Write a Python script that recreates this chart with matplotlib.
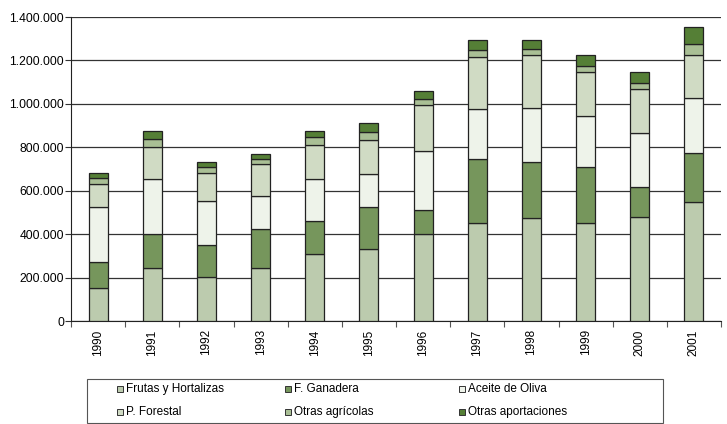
import numpy as np
import matplotlib.pyplot as plt
from matplotlib.patches import Rectangle
from matplotlib.ticker import FuncFormatter

# Datos (tramos de cada serie)
anios = ["1990", "1991", "1992", "1993", "1994", "1995",
         "1996", "1997", "1998", "1999", "2000", "2001"]
frutas = [153000, 245000, 201000, 245000, 309000, 332000,
          402000, 453000, 474000, 453000, 480000, 547000]
ganadera = [120000, 157000, 151000, 177000, 151000, 191000,
            108000, 292000, 257000, 256000, 137000, 227000]
aceite = [250000, 250000, 199000, 152000, 192000, 154000,
          271000, 230000, 251000, 236000, 250000, 252000]
forestal = [108000, 151000, 130000, 150000, 157000, 155000,
            214000, 242000, 241000, 202000, 201000, 199000]
otras_agricolas = [26000, 35000, 28000, 21000, 38000, 37000,
                   29000, 30000, 30000, 26000, 28000, 51000]
otras_aportaciones = [24000, 35000, 22000, 23000, 26000, 41000,
                      37000, 49000, 43000, 50000, 51000, 78000]

series = [frutas, ganadera, aceite, forestal, otras_agricolas, otras_aportaciones]
nombres = ["Frutas y Hortalizas", "F. Ganadera", "Aceite de Oliva",
           "P. Forestal", "Otras agrícolas", "Otras aportaciones"]
colores = ["#bccbae", "#76965c", "#eef3ea", "#d0dbc4", "#a9bf95", "#557f36"]

plt.rcParams['font.family'] = ['Liberation Sans', 'DejaVu Sans']

W, H = 727, 424
fig = plt.figure(figsize=(W / 100, H / 100), dpi=100)
ax = fig.add_axes([71 / W, 1 - 321 / H, 650 / W, 304 / H])

x = np.arange(len(anios))
base = np.zeros(len(anios))
for vals, nom, col in zip(series, nombres, colores):
    ax.bar(x, vals, width=0.35, bottom=base, color=col, edgecolor="#222222",
           linewidth=0.9, label=nom, zorder=3)
    base += np.array(vals)

ax.set_ylim(0, 1400000)
ax.set_xlim(-0.5, len(anios) - 0.5)
ax.set_yticks(np.arange(0, 1400001, 200000))
ax.yaxis.set_major_formatter(FuncFormatter(lambda v, p: f"{int(v):,}".replace(",", ".")))
ax.grid(axis="y", color="#333333", linewidth=0.9, zorder=0)

# ticks del eje x entre categorías, etiquetas centradas
ax.set_xticks(np.arange(-0.5, len(anios), 1))
ax.set_xticklabels([])
ax.set_xticks(x, minor=True)
ax.set_xticklabels(anios, minor=True, rotation=90, fontsize=8.5)
ax.tick_params(axis="x", which="minor", length=0, pad=6)
ax.tick_params(axis="x", which="major", length=4, color="#555555")
ax.tick_params(axis="y", labelsize=8.7, length=4, color="#333333", pad=1)

for s in ["top", "right"]:
    ax.spines[s].set_visible(False)
ax.spines["left"].set_color("#222222")
ax.spines["bottom"].set_color("#222222")

# leyenda dibujada a mano (columnas con posiciones fijas)
fig.patches.append(Rectangle((87 / W, 1 - 423 / H), 576 / W, 44 / H,
                             transform=fig.transFigure, facecolor="white",
                             edgecolor="#555555", linewidth=0.8))
col_x = [120, 288, 462]
fila_y = [389, 412]
for i, (nom, col) in enumerate(zip(nombres, colores)):
    cx = col_x[i % 3]
    cy = fila_y[i // 3]
    fig.patches.append(Rectangle(((cx - 3) / W, 1 - (cy + 3) / H), 6 / W, 6 / H,
                                 transform=fig.transFigure, facecolor=col,
                                 edgecolor="#333333", linewidth=0.7))
    fig.text((cx + 6) / W, 1 - cy / H, nom, fontsize=8.5, va="center", ha="left")

plt.savefig("out.png", dpi=100)
